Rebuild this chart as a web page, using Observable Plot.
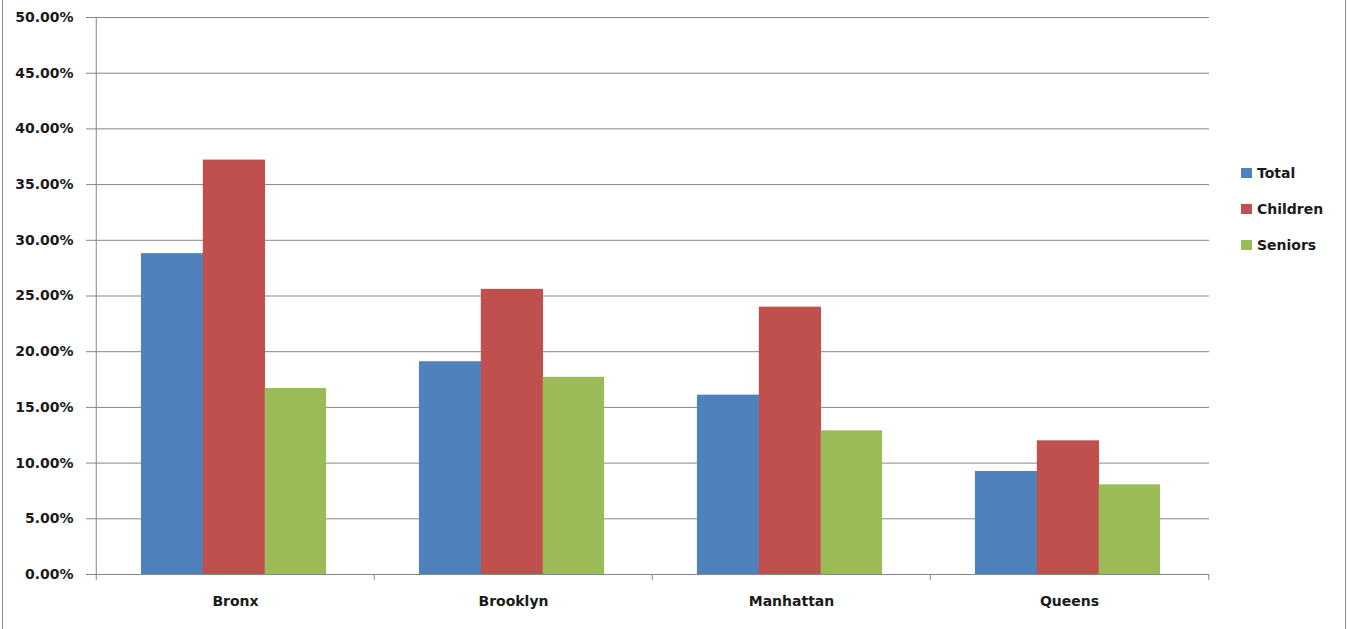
<!DOCTYPE html>
<html><head><meta charset="utf-8">
<script src="https://cdn.jsdelivr.net/npm/d3@7"></script>
<script src="https://cdn.jsdelivr.net/npm/@observablehq/plot@0.6"></script>
<style>
body{margin:0;background:#fff;}
#wrap{position:relative;width:1347px;height:629px;overflow:hidden;background:#fff;}
#border{position:absolute;left:2px;top:0;width:1344px;height:629px;border-left:1px solid #8c8c8c;border-right:1px solid #8c8c8c;box-sizing:border-box;pointer-events:none;}
#legend{position:absolute;left:1241px;top:0;font:bold 14px "DejaVu Sans";color:#1a1a1a;}
.item{position:absolute;left:0;white-space:nowrap;display:flex;align-items:center;height:18px;}
.sw{width:11px;height:10px;margin-right:5px;}
svg g[aria-label="y-axis"] line, svg g[aria-label="y-axis tick"] path{stroke:#868686;}
</style></head>
<body><div id="wrap"><div id="chart"></div><div id="legend"></div><div id="border"></div></div>
<script>
const boroughs = ["Bronx", "Brooklyn", "Manhattan", "Queens"];
const series = ["Total", "Children", "Seniors"];
const total    = [0.288, 0.191, 0.161, 0.0925];
const children = [0.372, 0.256, 0.240, 0.120];
const seniors  = [0.167, 0.177, 0.129, 0.0805];
const colors = ["#4F81BD", "#C0504D", "#9BBB59"];
const yTicks = [0, 0.05, 0.10, 0.15, 0.20, 0.25, 0.30, 0.35, 0.40, 0.45, 0.50];

const valuesBySeries = [total, children, seniors];
const data = boroughs.flatMap((b, i) => series.map((s, k) => ({borough: b, series: s, value: valuesBySeries[k][i]})));

const W = 1347, H = 629, mL = 95, mR = 138, mT = 17, mB = 55;
const bw = (W - mL - mR) / boroughs.length;
const gridColor = "#868686";

const barMarks = series.map((s, k) => Plot.barY(data.filter(d => d.series === s), {
  x: "borough", y: "value", fill: "series",
  insetLeft: bw * (1/6 + k * 2/9) - 1.5,
  insetRight: bw * (1 - 1/6 - (k + 1) * 2/9) - (k < series.length - 1 ? 0.8 : 0) + 1.5
}));

const chart = Plot.plot({
  width: W, height: H,
  marginLeft: mL, marginRight: mR, marginTop: mT, marginBottom: mB,
  style: {fontFamily: "DejaVu Sans", fontSize: "14px", fontWeight: "bold", color: "#1a1a1a", background: "transparent"},
  x: {domain: boroughs, padding: 0, tickSize: 0, tickPadding: 22, label: null},
  y: {domain: [0, 0.5], ticks: yTicks, tickFormat: d => (d * 100).toFixed(2) + "%", tickSize: 9, tickPadding: 13, label: null},
  color: {domain: series, range: colors},
  marks: [
    Plot.ruleY(yTicks, {stroke: gridColor, strokeWidth: 1}),
    ...barMarks,
    Plot.ruleX(boroughs, {x: d => d, dx: -bw / 2, y1: (d, i) => i === 0 ? 0.5 : 0, y2: 0, insetBottom: -6, stroke: gridColor}),
    Plot.ruleX(boroughs.slice(-1), {x: d => d, dx: bw / 2, y1: 0, y2: 0, insetBottom: -6, stroke: gridColor})
  ]
});
document.getElementById("chart").appendChild(chart);

const legend = document.getElementById("legend");
series.forEach((s, k) => {
  const item = document.createElement("div");
  item.className = "item";
  item.style.top = (164 + k * 36) + "px";
  const sw = document.createElement("span");
  sw.className = "sw";
  sw.style.background = colors[k];
  item.appendChild(sw);
  item.appendChild(document.createTextNode(s));
  legend.appendChild(item);
});
</script>
</body></html>
